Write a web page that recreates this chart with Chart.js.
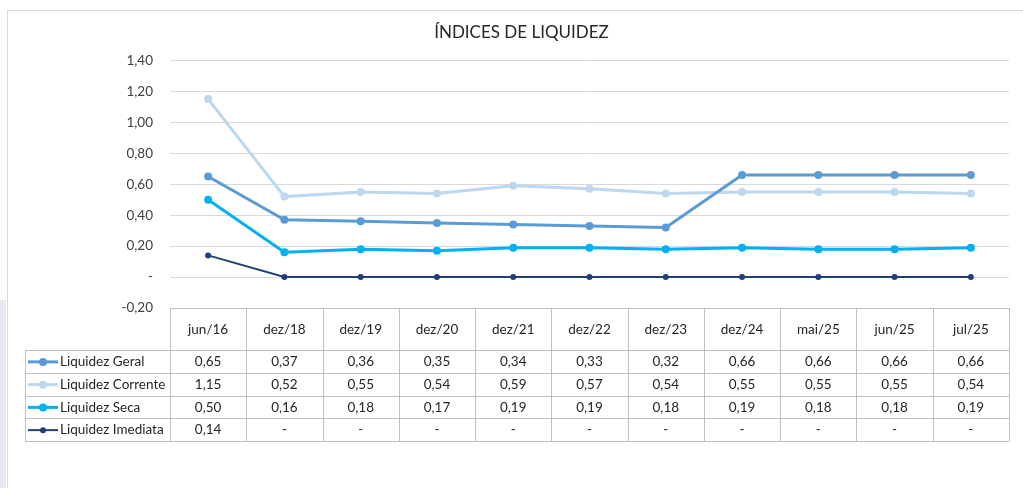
<!DOCTYPE html>
<html>
<head>
<meta charset="utf-8">
<title>Índices de Liquidez</title>
<script src="https://cdn.jsdelivr.net/npm/chart.js@4"></script>
<style>
  body { margin: 0; background: #fff; }
  canvas { display: block; }
</style>
</head>
<body>
<canvas id="liquidez-chart" width="1023" height="488"></canvas>
<script>
// ------------------ DATA -------------------//
const periods = ["jun/16", "dez/18", "dez/19", "dez/20", "dez/21", "dez/22",
    "dez/23", "dez/24", "mai/25", "jun/25", "jul/25"];
const liquidezGeral = [0.65, 0.37, 0.36, 0.35, 0.34, 0.33, 0.32, 0.66, 0.66, 0.66, 0.66];
const liquidezCorrente = [1.15, 0.52, 0.55, 0.54, 0.59, 0.57, 0.54, 0.55, 0.55, 0.55, 0.54];
const liquidezSeca = [0.50, 0.16, 0.18, 0.17, 0.19, 0.19, 0.18, 0.19, 0.18, 0.18, 0.19];
const liquidezImediata = [0.14, 0, 0, 0, 0, 0, 0, 0, 0, 0, 0];
const yTicks = { min: -0.2, max: 1.4, step: 0.2 };

const FONT = "Lato, 'Open Sans', sans-serif";

// number as "0,65", zero as "-"
function fmt(v) {
    if (Math.abs(v) < 1e-9) return "-";
    return v.toFixed(2).replace(".", ",");
}

// ------------------ FRAME (excel chart border) -------------------//
const frame = {
    id: 'frame',
    beforeDraw(chart) {
        const ctx = chart.ctx;
        ctx.save();
        ctx.fillStyle = '#e7e7f0';
        ctx.fillRect(0, 300, 6, 188);
        ctx.strokeStyle = '#d9d9d9';
        ctx.lineWidth = 1;
        ctx.strokeRect(7.5, 10.5, 1200, 600);
        ctx.restore();
    }
};

// ------------------ DATA TABLE under the plot -------------------//
const dataTable = {
    id: 'dataTable',
    afterDraw(chart) {
        const { ctx, chartArea } = chart;
        const xScale = chart.scales.x;
        const left = chartArea.left, right = chartArea.right;
        const top = chartArea.bottom;
        const headH = 42, rowH = 22.75;
        const legendLeft = 25;
        const colW = (right - left) / periods.length;
        const sets = chart.data.datasets;
        const bottom = top + headH + rowH * sets.length;

        ctx.save();
        ctx.strokeStyle = '#bfbfbf';
        ctx.lineWidth = 1;
        ctx.beginPath();
        // header top
        ctx.moveTo(left, top + 0.5); ctx.lineTo(right, top + 0.5);
        // row lines
        for (let r = 0; r <= sets.length; r++) {
            const y = Math.round(top + headH + r * rowH) + 0.5;
            ctx.moveTo(legendLeft, y); ctx.lineTo(right, y);
        }
        // column lines
        for (let c = 0; c <= periods.length; c++) {
            const x = Math.round(left + c * colW) + 0.5;
            ctx.moveTo(x, top); ctx.lineTo(x, bottom);
        }
        ctx.moveTo(legendLeft + 0.5, top + headH); ctx.lineTo(legendLeft + 0.5, bottom);
        ctx.stroke();

        ctx.fillStyle = '#262626';
        ctx.font = "13.5px " + FONT;
        ctx.textAlign = 'center';
        ctx.textBaseline = 'middle';
        periods.forEach((p, i) => {
            ctx.fillText(p, xScale.getPixelForValue(i), top + headH / 2 + 1);
        });

        sets.forEach((ds, r) => {
            const yc = top + headH + r * rowH + rowH / 2 + 0.5;
            // legend key
            ctx.strokeStyle = ds.borderColor;
            ctx.lineWidth = ds.borderWidth;
            ctx.beginPath();
            ctx.moveTo(28, yc); ctx.lineTo(58, yc);
            ctx.stroke();
            ctx.fillStyle = ds.borderColor;
            ctx.beginPath();
            ctx.arc(43, yc, ds.pointRadius, 0, Math.PI * 2);
            ctx.fill();
            ctx.fillStyle = '#262626';
            ctx.textAlign = 'left';
            ctx.fillText(ds.label, 60, yc);
            ctx.textAlign = 'center';
            ds.data.forEach((v, i) => {
                ctx.fillText(fmt(v), xScale.getPixelForValue(i), yc);
            });
        });
        ctx.restore();
    }
};

// ------------------ LINE CHART -------------------//
const liquidezCanvas = document.getElementById('liquidez-chart');

function lineSet(label, data, color, width, radius) {
    return {
        label: label,
        data: data,
        borderColor: color,
        backgroundColor: color,
        borderWidth: width,
        pointRadius: radius,
        pointBorderWidth: 0,
        pointBackgroundColor: color,
        tension: 0
    };
}

const liquidezData = {
    labels: periods,
    datasets: [
        lineSet('Liquidez Geral', liquidezGeral, '#5b9bd5', 3, 4),
        lineSet('Liquidez Corrente', liquidezCorrente, '#bdd7ee', 3, 4),
        lineSet('Liquidez Seca', liquidezSeca, '#00b0f0', 3, 4),
        lineSet('Liquidez Imediata', liquidezImediata, '#203f78', 2, 3)
    ]
};

const liquidezOptions = {
    responsive: false,
    animation: false,
    devicePixelRatio: 1,
    layout: {
        padding: { left: 34, right: 14, top: 0, bottom: 180 }
    },
    scales: {
        x: {
            display: false,
            offset: true
        },
        y: {
            min: yTicks.min,
            max: yTicks.max,
            afterFit: scale => { scale.width = 136; },
            border: { display: false },
            grid: {
                color: '#d9d9d9',
                drawTicks: false
            },
            ticks: {
                stepSize: yTicks.step,
                padding: 17,
                color: '#404040',
                font: { family: FONT, size: 13.5 },
                callback: v => fmt(v)
            }
        }
    },
    plugins: {
        legend: { display: false },
        tooltip: { enabled: false },
        title: {
            display: true,
            text: 'ÍNDICES DE LIQUIDEZ',
            color: '#262626',
            font: { family: FONT, size: 17, weight: 'normal' },
            padding: { top: 22, bottom: 18 }
        }
    }
};

let liquidezChart = new Chart(liquidezCanvas, {
    type: 'line',
    data: liquidezData,
    options: liquidezOptions,
    plugins: [frame, dataTable]
});
</script>
</body>
</html>
